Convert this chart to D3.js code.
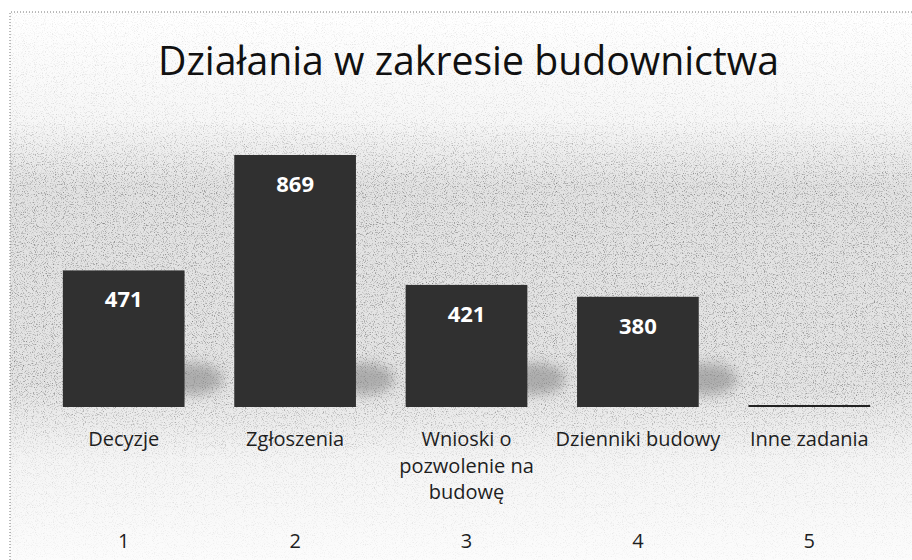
<!DOCTYPE html>
<html lang="pl">
<head>
  <meta charset="utf-8" />
  <title>Działania w zakresie budownictwa</title>
  <style>
    html, body { margin: 0; padding: 0; background: #fff; }
    svg { display: block; }
    .title { font-family: "Open Sans", "DejaVu Sans", sans-serif; font-size: 40px; fill: #111; }
    .cat { font-family: "Open Sans", "DejaVu Sans", sans-serif; font-size: 20px; fill: #1e1e1e; }
    .num { font-family: "Open Sans", "DejaVu Sans", sans-serif; font-size: 20px; fill: #1e1e1e; }
    .val { font-family: "Open Sans", "DejaVu Sans", sans-serif; font-size: 22px; font-weight: bold; fill: #fff; }
  </style>
</head>
<body>
<div id="chart"></div>

<script src="https://d3js.org/d3.v7.min.js"></script>
<script>
  // dane z wykresu
  const categories = ["Decyzje", "Zgłoszenia", "Wnioski o pozwolenie na budowę", "Dzienniki budowy", "Inne zadania"];
  const values = [471, 869, 421, 380, 0];
  const numbers = ["1", "2", "3", "4", "5"];
  const title = "Działania w zakresie budownictwa";

  const width = 912, height = 560;

  const svg = d3.select("#chart").append("svg")
    .attr("width", width)
    .attr("height", height);

  const defs = svg.append("defs");

  // szare tło "skanu"
  const bg = defs.append("linearGradient").attr("id", "bg")
    .attr("x1", 0).attr("y1", 0).attr("x2", 0).attr("y2", 1);
  bg.append("stop").attr("offset", "0%").attr("stop-color", "#ffffff");
  bg.append("stop").attr("offset", "20%").attr("stop-color", "#f7f7f7");
  bg.append("stop").attr("offset", "32%").attr("stop-color", "#e2e2e2");
  bg.append("stop").attr("offset", "68%").attr("stop-color", "#e4e4e4");
  bg.append("stop").attr("offset", "82%").attr("stop-color", "#f5f5f5");
  bg.append("stop").attr("offset", "100%").attr("stop-color", "#fcfcfc");

  const fade = defs.append("linearGradient").attr("id", "fade")
    .attr("x1", 0).attr("y1", 0).attr("x2", 0).attr("y2", 1);
  fade.append("stop").attr("offset", "0%").attr("stop-color", "#333");
  fade.append("stop").attr("offset", "20%").attr("stop-color", "#555");
  fade.append("stop").attr("offset", "32%").attr("stop-color", "#fff");
  fade.append("stop").attr("offset", "70%").attr("stop-color", "#fff");
  fade.append("stop").attr("offset", "82%").attr("stop-color", "#555");
  fade.append("stop").attr("offset", "100%").attr("stop-color", "#222");

  const mask = defs.append("mask").attr("id", "grainMask");
  mask.append("rect")
    .attr("x", 0).attr("y", 0)
    .attr("width", width).attr("height", height)
    .attr("fill", "url(#fade)");

  const grain = defs.append("filter").attr("id", "grain")
    .attr("x", 0).attr("y", 0).attr("width", 1).attr("height", 1);
  grain.append("feTurbulence")
    .attr("type", "fractalNoise").attr("baseFrequency", 0.9)
    .attr("numOctaves", 2).attr("seed", 7);
  grain.append("feColorMatrix").attr("type", "matrix")
    .attr("values", "0 0 0 0 0  0 0 0 0 0  0 0 0 0 0  3 0 0 0 -1.55");

  const blur = defs.append("filter").attr("id", "blur")
    .attr("x", "-50%").attr("y", "-50%").attr("width", "200%").attr("height", "200%");
  blur.append("feGaussianBlur").attr("stdDeviation", 6);

  svg.append("rect")
    .attr("x", 10).attr("y", 12)
    .attr("width", width - 10).attr("height", height - 12)
    .attr("fill", "url(#bg)");

  svg.append("rect")
    .attr("x", 10).attr("y", 12)
    .attr("width", width - 10).attr("height", height - 12)
    .attr("filter", "url(#grain)")
    .attr("mask", "url(#grainMask)")
    .attr("opacity", 0.4);

  // ramka (kropkowana krawędź skanu)
  svg.append("path")
    .attr("d", `M10,${height} V12 H${width}`)
    .attr("fill", "none")
    .attr("stroke", "#777")
    .attr("stroke-width", 1)
    .attr("stroke-dasharray", "1,2");

  // skale
  const x = d3.scaleBand()
    .domain(categories)
    .range([38, 895])
    .paddingInner(0.29)
    .paddingOuter(0.145);

  const y = d3.scaleLinear()
    .domain([0, 900])
    .range([407, 146]);

  // tytuł
  svg.append("text")
    .attr("class", "title")
    .attr("x", 158)
    .attr("y", 75)
    .attr("textLength", 621)
    .attr("lengthAdjust", "spacingAndGlyphs")
    .text(title);

  const data = categories.map((c, i) => ({ cat: c, value: values[i], num: numbers[i] }));

  // cienie słupków
  svg.append("g").selectAll("ellipse")
    .data(data.filter(d => d.value > 0))
    .join("ellipse")
    .attr("cx", d => x(d.cat) + x.bandwidth() + 8)
    .attr("cy", y(0) - 28)
    .attr("rx", 30)
    .attr("ry", 16)
    .attr("fill", "#8a8a8a")
    .attr("opacity", 0.6)
    .attr("filter", "url(#blur)");

  // słupki
  svg.append("g").selectAll("rect")
    .data(data)
    .join("rect")
    .attr("x", d => x(d.cat))
    .attr("y", d => y(d.value))
    .attr("width", x.bandwidth())
    .attr("height", d => y(0) - y(d.value))
    .attr("fill", "#303030");

  // słupek zerowy jako linia
  svg.append("g").selectAll("line")
    .data(data.filter(d => d.value === 0))
    .join("line")
    .attr("x1", d => x(d.cat))
    .attr("x2", d => x(d.cat) + x.bandwidth())
    .attr("y1", y(0) - 1)
    .attr("y2", y(0) - 1)
    .attr("stroke", "#222")
    .attr("stroke-width", 2);

  // etykiety wartości
  svg.append("g").selectAll("text")
    .data(data.filter(d => d.value > 0))
    .join("text")
    .attr("class", "val")
    .attr("x", d => x(d.cat) + x.bandwidth() / 2)
    .attr("y", d => y(d.value) + 37)
    .attr("text-anchor", "middle")
    .text(d => d.value);

  // etykiety kategorii (z zawijaniem)
  const catText = svg.append("g").selectAll("text")
    .data(data)
    .join("text")
    .attr("class", "cat")
    .attr("x", d => x(d.cat) + x.bandwidth() / 2)
    .attr("y", 446)
    .attr("text-anchor", "middle");

  catText.each(function(d) {
    const t = d3.select(this);
    const words = d.cat.split(" ");
    const maxW = x.step();
    let line = [];
    let tspan = t.append("tspan").attr("x", x(d.cat) + x.bandwidth() / 2).attr("dy", 0);
    words.forEach(w => {
      line.push(w);
      tspan.text(line.join(" "));
      if (tspan.node().getComputedTextLength() > maxW && line.length > 1) {
        line.pop();
        tspan.text(line.join(" "));
        line = [w];
        tspan = t.append("tspan")
          .attr("x", x(d.cat) + x.bandwidth() / 2)
          .attr("dy", 26.5)
          .text(w);
      }
    });
  });

  // drugi poziom osi: numery
  svg.append("g").selectAll("text")
    .data(data)
    .join("text")
    .attr("class", "num")
    .attr("x", d => x(d.cat) + x.bandwidth() / 2)
    .attr("y", 548)
    .attr("text-anchor", "middle")
    .text(d => d.num);
</script>
</body>
</html>
